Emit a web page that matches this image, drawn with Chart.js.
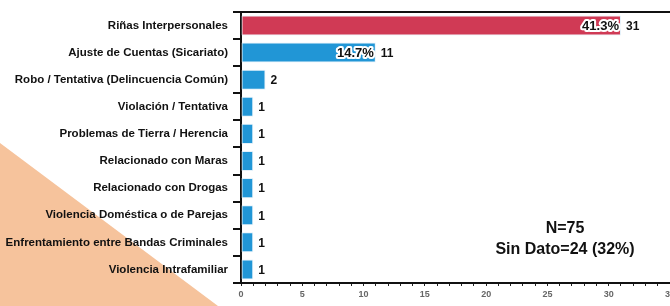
<!DOCTYPE html>
<html>
<head>
<meta charset="utf-8">
<script src="https://cdn.jsdelivr.net/npm/chart.js@4"></script>
<style>
  html, body { margin: 0; padding: 0; background: #fff; overflow: hidden; }
  #wrap { width: 700px; height: 306px; }
</style>
</head>
<body>
<div id="wrap"><canvas id="chart" width="700" height="306"></canvas></div>
<script>
const categories = [
    'Riñas Interpersonales',
    'Ajuste de Cuentas (Sicariato)',
    'Robo / Tentativa (Delincuencia Común)',
    'Violación / Tentativa',
    'Problemas de Tierra / Herencia',
    'Relacionado con Maras',
    'Relacionado con Drogas',
    'Violencia Doméstica o de Parejas',
    'Enfrentamiento entre Bandas Criminales',
    'Violencia Intrafamiliar'
];
const counts = [31, 11, 2, 1, 1, 1, 1, 1, 1, 1];
const percentLabels = ['41.3%', '14.7%', '', '', '', '', '', '', '', ''];
const xTicks = [0, 5, 10, 15, 20, 25, 30, 35];
const noteLines = ['N=75', 'Sin Dato=24 (32%)'];

const FONT = '"Liberation Sans", Arial, sans-serif';

// colore barra con sfumatura verticale
function barColor(context) {
    const chart = context.chart;
    const { ctx, chartArea } = chart;
    const red = context.dataIndex === 0;
    const el = context.element;
    if (!chartArea || !el || el.y === undefined) return red ? '#d03a55' : '#2196d6';
    const h = el.height || 20;
    const g = ctx.createLinearGradient(0, el.y - h / 2, 0, el.y + h / 2);
    if (red) {
        g.addColorStop(0, '#db4a63');
        g.addColorStop(1, '#c5304b');
    } else {
        g.addColorStop(0, '#35a5e2');
        g.addColorStop(1, '#1689cc');
    }
    return g;
}

const decorations = {
    id: 'decorations',
    beforeDraw(chart) {
        const ctx = chart.ctx;
        ctx.save();
        ctx.fillStyle = '#f6c39c';
        ctx.beginPath();
        ctx.moveTo(0, 143);
        ctx.lineTo(218, 306);
        ctx.lineTo(0, 306);
        ctx.closePath();
        ctx.fill();
        ctx.restore();
    },
    afterDraw(chart) {
        const { ctx, chartArea } = chart;
        ctx.save();
        // linea superiore
        ctx.strokeStyle = '#111';
        ctx.lineWidth = 2;
        ctx.beginPath();
        ctx.moveTo(chartArea.left - 1, chartArea.top);
        ctx.lineTo(chartArea.right, chartArea.top);
        ctx.stroke();

        const meta = chart.getDatasetMeta(0);
        meta.data.forEach((bar, i) => {
            ctx.font = 'bold 12px ' + FONT;
            ctx.textBaseline = 'middle';
            ctx.textAlign = 'left';
            ctx.fillStyle = '#111';
            ctx.fillText(String(counts[i]), bar.x + 5, bar.y + 1);
            if (percentLabels[i]) {
                ctx.font = 'bold 13px ' + FONT;
                ctx.textAlign = 'right';
                ctx.lineJoin = 'round';
                ctx.lineWidth = 4;
                ctx.strokeStyle = '#fff';
                ctx.strokeText(percentLabels[i], bar.x - 2, bar.y + 1);
                ctx.fillStyle = '#111';
                ctx.fillText(percentLabels[i], bar.x - 2, bar.y + 1);
            }
        });

        // nota
        ctx.font = 'bold 16px ' + FONT;
        ctx.textAlign = 'center';
        ctx.fillStyle = '#111';
        ctx.fillText(noteLines[0], 565, 229);
        ctx.fillText(noteLines[1], 565, 250);
        ctx.restore();
    }
};

new Chart(document.getElementById('chart'), {
    type: 'bar',
    data: {
        labels: categories,
        datasets: [{
            data: counts,
            backgroundColor: barColor,
            borderColor: 'rgba(225,240,250,0.9)',
            borderWidth: 1,
            borderSkipped: false,
            categoryPercentage: 1,
            barPercentage: 0.74
        }]
    },
    options: {
        indexAxis: 'y',
        responsive: false,
        animation: false,
        layout: { padding: { top: 10, right: 30, left: 0, bottom: 0 } },
        plugins: { legend: { display: false }, tooltip: { enabled: false } },
        scales: {
            x: {
                min: 0,
                max: 35,
                afterFit(scale) { scale.height = 23; },
                afterBuildTicks(scale) {
                    const t = [];
                    for (let v = 0; v <= 35; v++) t.push({ value: v });
                    scale.ticks = t;
                },
                ticks: {
                    autoSkip: false,
                    maxRotation: 0,
                    padding: 3,
                    color: '#666',
                    font: { family: FONT, size: 9, weight: 'bold' },
                    callback: (v) => xTicks.includes(v) ? String(v) : ''
                },
                grid: {
                    drawOnChartArea: false,
                    drawTicks: true,
                    tickLength: 3,
                    color: '#222',
                    lineWidth: 1
                },
                border: { display: true, color: '#111', width: 2 }
            },
            y: {
                afterFit(scale) { scale.width = 241; },
                ticks: {
                    padding: 5,
                    color: '#111',
                    font: { family: FONT, size: 11.5, weight: 'bold' }
                },
                grid: {
                    offset: true,
                    drawOnChartArea: false,
                    drawTicks: true,
                    tickLength: 8,
                    color: '#111',
                    lineWidth: 2
                },
                border: { display: true, color: '#111', width: 2 }
            }
        }
    },
    plugins: [decorations]
});
</script>
</body>
</html>
